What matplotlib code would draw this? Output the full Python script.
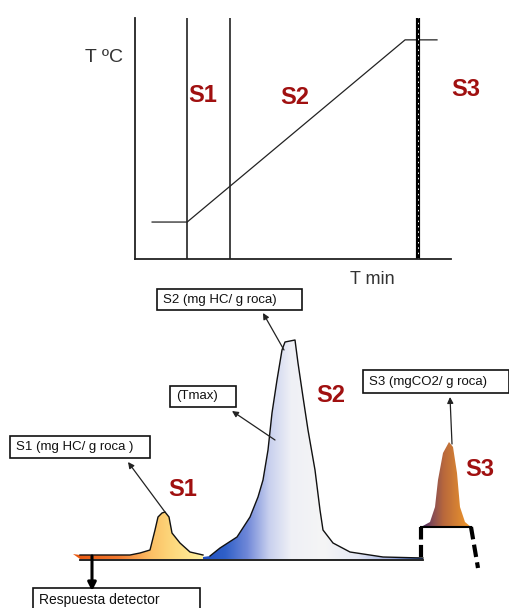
import numpy as np
import matplotlib.pyplot as plt
from matplotlib.colors import LinearSegmentedColormap
from matplotlib.patches import Rectangle, Polygon

plt.rcParams['font.family'] = ['Liberation Sans', 'DejaVu Sans']

# Programa de temperatura (min, ºC)
t_prog = [1.1, 3.35, 17.35, 19.4]
T_prog = [300, 300, 650, 650]
t_limites = [3.35, 6.1]      # limites S1 / S2
t_s3 = 18.2                  # inicio S3

# Pirograma: posicion horizontal y respuesta del detector sobre la linea base
s1_x = [73, 80, 130, 140, 150, 155, 158, 162, 165, 169, 172, 180, 190, 203]
s1_h = [5, 4, 4, 6, 9, 29, 42, 46, 47, 42, 26, 16, 7, 4]
s2_x = [203, 210, 220, 237, 250, 258, 263, 268, 272, 277, 282, 285, 295,
        298, 303, 308, 315, 320, 323, 333, 350, 383, 423]
s2_h = [2, 3, 11, 22, 42, 62, 79, 109, 146, 179, 209, 217, 219, 196, 162,
        129, 89, 49, 29, 16, 7, 2, 1]
s3_x = [421, 430, 435, 438, 443, 449, 453, 457, 460, 465, 471]
s3_h = [0, 5, 20, 47, 74, 85, 80, 54, 20, 5, 0]

base_y = 559
s3_base = 527

fig = plt.figure(figsize=(5.1, 6.08), dpi=100)
ax = fig.add_axes([0, 0, 1, 1])
ax.set_xlim(0, 510)
ax.set_ylim(608, 0)
ax.axis('off')

# --- panel superior: temperatura vs tiempo ---
axt = fig.add_axes([135 / 510, 1 - 259 / 608, 316 / 510, 241 / 608])
axt.patch.set_visible(False)
axt.set_xlim(0, 20.3)
axt.set_ylim(229, 692)
for s in ['top', 'right']:
    axt.spines[s].set_visible(False)
for s in ['left', 'bottom']:
    axt.spines[s].set_color('#222222')
    axt.spines[s].set_linewidth(1.3)
axt.set_xticks([])
axt.set_yticks([])
axt.plot(t_prog, T_prog, color='#222222', lw=0.9)
for t in t_limites:
    axt.axvline(t, color='#222222', lw=1.2)
axt.axvline(t_s3, color='black', lw=3)
axt.axvline(t_s3, color='white', lw=0.7, ls=(0, (1.5, 4)))

ax.text(85, 58, 'T ºC', fontsize=14, color='#333333', va='center')
ax.text(350, 280, 'T min', fontsize=13, color='#333333', va='center')
rojo = '#A01010'
for txt, x, y in [('S1', 203, 95), ('S2', 295, 97), ('S3', 466, 90),
                  ('S1', 183, 489), ('S2', 331, 396), ('S3', 480, 469)]:
    ax.text(x, y, txt, fontsize=17, fontweight='bold', color=rojo,
            ha='center', va='center')


# --- panel inferior: pirograma ---
def pico(xs, hs, y0, colores, contorno=True):
    xs = np.array(xs, float)
    ys = y0 - np.array(hs, float)
    verts = list(zip(xs, ys)) + [(xs[-1], y0), (xs[0] + (7 if xs[0] < 100 else 0), y0)]
    poly = Polygon(verts, closed=True, facecolor='none', edgecolor='none')
    ax.add_patch(poly)
    cmap = LinearSegmentedColormap.from_list('g', colores)
    grad = np.linspace(0, 1, 256)[None, :]
    im = ax.imshow(grad, cmap=cmap, aspect='auto',
                   extent=(xs[0], xs[-1], y0 + 1, ys.min() - 1), zorder=2)
    im.set_clip_path(poly)
    if contorno:
        ax.plot(xs[1:], ys[1:], color='#111111', lw=1.0, zorder=3)


pico(s1_x, s1_h, base_y,
     [(0, '#E8560E'), (0.35, '#F27A30'), (0.6, '#FBBF66'),
      (0.75, '#FDD67A'), (1, '#FFF1A0')])
pico(s2_x, s2_h, base_y,
     [(0, '#1F4FC0'), (0.1, '#3060C8'), (0.2, '#7088D8'),
      (0.3, '#C8D0EE'), (0.4, '#EFF0F6'), (0.55, '#F5F5F5'),
      (0.7, '#E6E9F5'), (0.85, '#A8B6E4'), (1, '#2253B8')])
pico(s3_x, s3_h, s3_base,
     [(0, '#3C2262'), (0.2, '#7E4858'), (0.45, '#B8683C'), (1, '#F29A2A')],
     contorno=False)

ax.plot([80, 423], [base_y + 1, base_y + 1], color='#111111', lw=1.3, zorder=3)
ax.plot([421, 471], [s3_base, s3_base], color='black', lw=1.5, zorder=3)
ax.plot([421, 421], [s3_base, base_y - 2], color='black', lw=3,
        ls=(0, (3, 1.3)), zorder=3)
ax.plot([471, 478], [s3_base, 568], color='black', lw=3,
        ls=(0, (3, 1.3)), zorder=3)

# cajas de texto
cajas = [('S1 (mg HC/ g roca )', 10, 436, 140, 22),
         ('S2 (mg HC/ g roca)', 157, 289, 145, 21),
         ('(Tmax)', 170, 386, 66, 21),
         ('S3 (mgCO2/ g roca)', 363, 370, 146, 23),
         ('Respuesta detector', 33, 588, 167, 30)]
for txt, x, y, w, h in cajas:
    ax.add_patch(Rectangle((x, y), w, h, facecolor='white',
                           edgecolor='#111111', lw=1.2, zorder=4))
    yy = y + h / 2 if h < 25 else y + 12
    fs = 10 if txt.startswith('Resp') else 9.5
    ax.text(x + 6, yy, txt, fontsize=fs, color='#111111',
            va='center', ha='left', zorder=5)

flechas = [((165, 512), (128, 462)), ((284, 350), (263, 313)),
           ((275, 440), (232, 411)), ((452, 444), (450, 397))]
for a, b in flechas:
    ax.annotate('', xy=b, xytext=a, zorder=5,
                arrowprops=dict(arrowstyle='-|>', color='#222222', lw=0.9,
                                mutation_scale=9, shrinkA=0, shrinkB=0))
ax.annotate('', xy=(92, 591), xytext=(92, base_y - 3), zorder=5,
            arrowprops=dict(arrowstyle='-|>', color='black', lw=2.2,
                            mutation_scale=12, shrinkA=0, shrinkB=0))

fig.savefig('out.png', dpi=100)
